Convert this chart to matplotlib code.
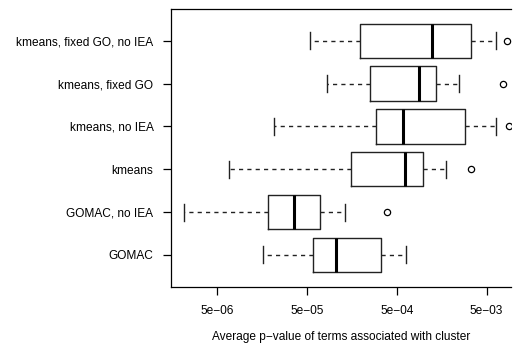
import matplotlib
matplotlib.use("Agg")
import matplotlib.pyplot as plt
from matplotlib.ticker import FixedLocator, NullLocator

# groups from bottom to top
labels = ["GOMAC", "GOMAC, no IEA", "kmeans", "kmeans, no IEA",
          "kmeans, fixed GO", "kmeans, fixed GO, no IEA"]
whisker_lo = [1.61e-5, 2.15e-6, 6.85e-6, 2.13e-5, 8.26e-5, 5.35e-5]
q1 = [5.87e-5, 1.82e-5, 1.55e-4, 2.92e-4, 2.52e-4, 1.95e-4]
medians = [1.05e-4, 3.61e-5, 6.24e-4, 5.87e-4, 8.77e-4, 1.22e-3]
q3 = [3.35e-4, 6.97e-5, 9.73e-4, 2.89e-3, 1.37e-3, 3.37e-3]
whisker_hi = [6.34e-4, 1.31e-4, 1.78e-3, 6.30e-3, 2.48e-3, 6.34e-3]
outliers = [[], [3.94e-4], [3.37e-3], [8.85e-3], [7.53e-3], [8.47e-3]]

tick_vals = [5e-6, 5e-5, 5e-4, 5e-3]
tick_labels = ["5e\u221206", "5e\u221205", "5e\u221204", "5e\u221203"]

plt.rcParams["font.family"] = ["Liberation Sans", "DejaVu Sans"]

fig = plt.figure(figsize=(5.15, 3.47), dpi=100)
ax = fig.add_axes([0.333, 0.174, 0.659, 0.800])

stats = []
for i in range(len(labels)):
    stats.append({
        "whislo": whisker_lo[i], "q1": q1[i], "med": medians[i],
        "q3": q3[i], "whishi": whisker_hi[i], "fliers": outliers[i],
    })

ax.bxp(stats, positions=range(1, len(labels) + 1), vert=False, widths=0.8,
       showfliers=True, patch_artist=False,
       boxprops=dict(color="#222222", linewidth=1.0),
       medianprops=dict(color="black", linewidth=2.2, solid_capstyle="butt"),
       whiskerprops=dict(color="#222222", linewidth=1.0, linestyle=(0, (3, 3))),
       capprops=dict(color="#222222", linewidth=1.0),
       flierprops=dict(marker="o", markerfacecolor="none",
                       markeredgecolor="black", markersize=4.5,
                       markeredgewidth=0.9))

ax.set_xscale("log")
ax.set_xlim(10 ** -5.809, 10 ** -2.031)
ax.set_ylim(0.26, 6.74)

ax.xaxis.set_major_locator(FixedLocator(tick_vals))
ax.xaxis.set_minor_locator(NullLocator())
ax.set_xticklabels(tick_labels)
ax.set_yticks(range(1, len(labels) + 1))
ax.set_yticklabels(labels)

ax.tick_params(axis="both", length=6, width=0.9, labelsize=8.6)
ax.tick_params(axis="x", pad=7)
ax.tick_params(axis="y", pad=7)
ax.spines["right"].set_visible(False)
for s in ["left", "bottom", "top"]:
    ax.spines[s].set_linewidth(0.9)

ax.set_xlabel("Average p\u2212value of terms associated with cluster",
              fontsize=8.6, labelpad=10)

fig.savefig("out.png", dpi=100)
